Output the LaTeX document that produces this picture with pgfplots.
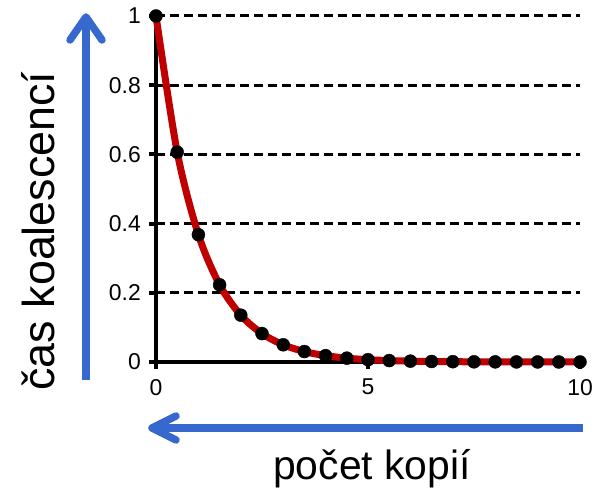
\documentclass[border=0pt]{standalone}
\usepackage{fontspec}
\setmainfont{Liberation Sans}
\usepackage{pgfplots}
\pgfplotsset{compat=1.18}
\definecolor{cred}{RGB}{192,0,0}
\definecolor{cblue}{RGB}{54,104,206}
\begin{document}
\begin{tikzpicture}[x=1bp,y=1bp]
\useasboundingbox (-156,-127) rectangle (445,362);
\begin{axis}[at={(0,0)}, anchor=south west, scale only axis,
  width=424bp, height=346bp,
  xmin=0, xmax=10, ymin=0, ymax=1, clip=false,
  axis lines*=left,
  axis line style={line width=4bp, black},
  xtick={0,5,10}, xticklabels={0,5,10},
  ytick={0,0.2,0.4,0.6,0.8,1}, yticklabels={0,0.2,0.4,0.6,0.8,1},
  tick align=outside, major tick length=7bp,
  tick style={line width=4bp, black},
  ymajorgrids,
  major grid style={line width=3bp, black, dash pattern=on 9bp off 5bp},
  /pgf/number format/assume math mode=true,
  ticklabel style={font=\fontsize{23}{26}\selectfont},
  yticklabel style={anchor=east, inner sep=0pt, xshift=-8bp},
  xticklabel style={anchor=north, inner sep=0pt, yshift=-10bp},
]
\addplot[cred, line width=7bp, smooth, no marks] coordinates {
(0,1) (0.5,0.6065) (1,0.3679) (1.5,0.2231) (2,0.1353) (2.5,0.0821)
(3,0.0498) (3.5,0.0302) (4,0.0183) (4.5,0.0111) (5,0.0067) (5.5,0.0041)
(6,0.0025) (6.5,0.0015) (7,0.0009) (7.5,0.00055) (8,0.00034) (8.5,0.0002)
(9,0.00012) (9.5,0.00007) (10,0.000045)};
\addplot[only marks, mark=*, mark size=6.5bp, black] coordinates {
(0,1) (0.5,0.6065) (1,0.3679) (1.5,0.2231) (2,0.1353) (2.5,0.0821)
(3,0.0498) (3.5,0.0302) (4,0.0183) (4.5,0.0111) (5,0.0067) (5.5,0.0041)
(6,0.0025) (6.5,0.0015) (7,0.0009) (7.5,0.00055) (8,0.00034) (8.5,0.0002)
(9,0.00012) (9.5,0.00007) (10,0.000045)};
\end{axis}
% vertical arrow
\draw[cblue, line width=7.5bp, line cap=butt] (-70,-18) -- (-70,343);
\draw[cblue, line width=7.5bp, line cap=round, line join=round] (-86,322) -- (-70,345) -- (-54,322);
% horizontal arrow
\draw[cblue, line width=7.5bp, line cap=butt] (427,-66) -- (-2,-66);
\draw[cblue, line width=7.5bp, line cap=round, line join=round] (20,-54) -- (-4,-66) -- (20,-78);
\node[rotate=90, anchor=base, inner sep=0pt, font=\fontsize{45}{50}\selectfont] at (-101,131) {čas koalescencí};
\node[anchor=base, inner sep=0pt, font=\fontsize{41}{48}\selectfont] at (216,-118) {počet kopií};
\end{tikzpicture}
\end{document}
